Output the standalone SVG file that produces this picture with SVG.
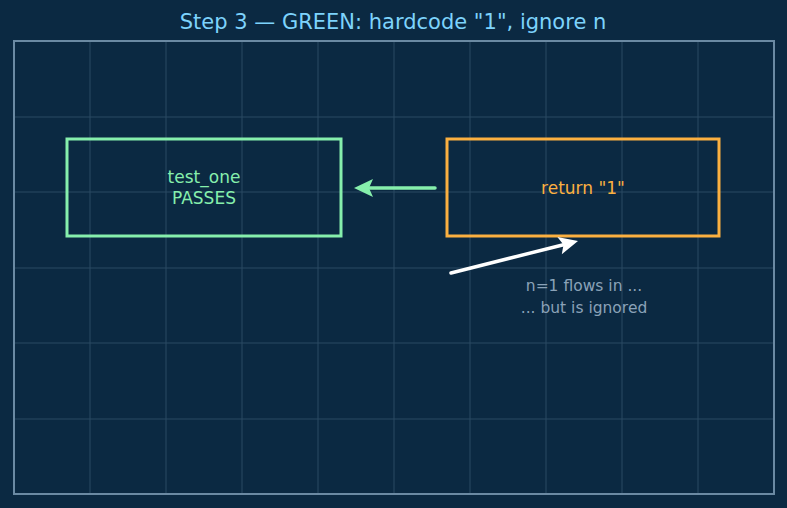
<svg xmlns="http://www.w3.org/2000/svg" width="787" height="508" viewBox="0 0 787 508">
<style>
text{font-family:"DejaVu Sans",sans-serif;text-anchor:middle}
.grid line{stroke:#2b4a63;stroke-width:1}
.box{fill:none;stroke-width:3}
.conn{stroke-width:3.5;stroke-linecap:round;fill:none}
</style>
<rect width="787" height="508" fill="#0b2942"/>
<text x="393" y="29" font-size="21" fill="#7dd3fc">Step 3 — GREEN: hardcode "1", ignore n</text>
<g class="grid">
<line x1="90" y1="41" x2="90" y2="494"/><line x1="166" y1="41" x2="166" y2="494"/><line x1="242" y1="41" x2="242" y2="494"/><line x1="318" y1="41" x2="318" y2="494"/><line x1="394" y1="41" x2="394" y2="494"/><line x1="470" y1="41" x2="470" y2="494"/><line x1="546" y1="41" x2="546" y2="494"/><line x1="622" y1="41" x2="622" y2="494"/><line x1="698" y1="41" x2="698" y2="494"/>
<line x1="14" y1="117" x2="774" y2="117"/><line x1="14" y1="192" x2="774" y2="192"/><line x1="14" y1="268" x2="774" y2="268"/><line x1="14" y1="343" x2="774" y2="343"/><line x1="14" y1="419" x2="774" y2="419"/>
</g>
<rect x="14" y="41" width="760" height="453" fill="none" stroke="#6b8aa3" stroke-width="2"/>
<g id="test_one">
<rect class="box" x="67" y="139" width="274" height="97" stroke="#86efac"/>
<text x="204" y="183" font-size="17" fill="#86efac">test_one</text>
<text x="204" y="204" font-size="17" fill="#86efac">PASSES</text>
</g>
<g id="impl">
<rect class="box" x="447" y="139" width="272" height="97" stroke="#fbb040"/>
<text x="583" y="194" font-size="17" fill="#fbb040">return "1"</text>
</g>
<g id="note">
<text x="584" y="291" font-size="15.5" fill="#8aa2b8">n=1 flows in ...</text>
<text x="584" y="313" font-size="15.5" fill="#8aa2b8">... but is ignored</text>
</g>
<g id="connectors">
<line class="conn" x1="435" y1="188" x2="368" y2="188" stroke="#86efac"/>
<polygon points="354,188 373,179 369,188 373,197" fill="#86efac"/>
<line class="conn" x1="451" y1="273" x2="563.5" y2="244.7" stroke="#ffffff"/>
<polygon points="578,241 557.4,236.9 563.5,244.7 561.8,254.3" fill="#ffffff"/>
</g>
</svg>
